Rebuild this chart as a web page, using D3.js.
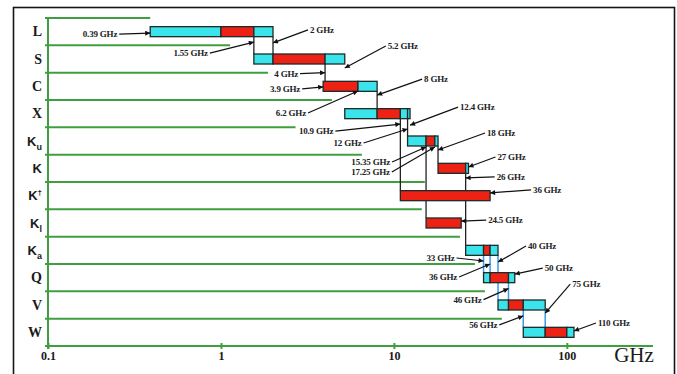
<!DOCTYPE html>
<html>
<head>
<meta charset="utf-8">
<script src="https://cdn.jsdelivr.net/npm/d3@7"></script>
<style>
  body { margin: 0; background: #fff; }
  svg { display: block; }
</style>
</head>
<body>
<svg id="chart" width="677" height="374"></svg>
<script>
// Radar / microwave frequency band designations (GHz, log scale)
const bandMain = ["L", "S", "C", "X", "K", "K", "K", "K", "K", "Q", "V", "W"];
const bandSub  = ["",  "",  "",  "",  "u", "",  "",  "l", "a", "",  "",  ""];
const bandSup  = ["",  "",  "",  "",  "",  "",  "†", "",  "",  "",  "",  ""];

// Bar pieces for each band: [from GHz, to GHz, kind]  (c = cyan, r = red)
const bandSegments = [
  [[0.39, 1, "c"], [1, 1.55, "r"], [1.55, 2, "c"]],
  [[1.55, 2, "c"], [2, 4, "r"], [4, 5.2, "c"]],
  [[3.9, 6.2, "r"], [6.2, 8, "c"]],
  [[5.2, 8, "c"], [8, 10.9, "r"], [10.9, 12, "c"], [12, 12.4, "c"]],
  [[12, 15.35, "c"], [15.35, 17.25, "r"], [17.25, 18, "c"]],
  [[18, 26, "r"], [26, 27, "c"]],
  [[10.9, 36, "r"]],
  [[15.35, 24.5, "r"]],
  [[26, 33, "c"], [33, 36, "r"], [36, 40, "c"]],
  [[33, 36, "c"], [36, 46, "r"], [46, 50, "c"]],
  [[40, 46, "c"], [46, 56, "r"], [56, 75, "c"]],
  [[56, 75, "c"], [75, 100, "r"], [100, 110, "c"]]
];

// Shared edges joining one band to another: [GHz, from band, to band]
const blackLinks = [[1.55, 0, 1], [2, 0, 1], [4, 1, 2], [8, 2, 3], [10.9, 3, 6],
                    [12, 3, 4], [15.35, 4, 7], [18, 4, 5], [26, 5, 8]];
const blueLinks  = [[33, 8, 9], [36, 8, 9], [40, 8, 10], [46, 9, 10], [56, 10, 11], [75, 10, 11]];

// Where each horizontal separator stops (GHz), top separator first
const gridEnds = [0.39, 1.13, 1.87, 4.38, 2.7, 6.53, 15.1, 14.5, 24.1, 29.4, 33.6, 42.1];

const tickValues = [0.1, 1, 10, 100];
const tickLabels = ["0.1", "1", "10", "100"];

// Edge call-outs: label, frequency pointed at, row position of the arrow tip
const calloutText = ["0.39 GHz", "1.55 GHz", "2 GHz", "5.2 GHz", "4 GHz", "3.9 GHz", "6.2 GHz",
  "8 GHz", "10.9 GHz", "12 GHz", "12.4 GHz", "15.35 GHz", "17.25 GHz", "18 GHz", "27 GHz",
  "26 GHz", "36 GHz", "24.5 GHz", "40 GHz", "33 GHz", "36 GHz", "50 GHz", "46 GHz",
  "75 GHz", "56 GHz", "110 GHz"];
const calloutFreq = [0.39, 1.55, 2, 5.2, 4, 3.9, 6.2, 8, 10.9, 12, 12.4, 15.35, 17.25, 18, 27,
  26, 36, 24.5, 40, 33, 36, 50, 46, 75, 56, 110];
const calloutRow = [0.55, 0.88, 0.91, 1.83, 2.0, 2.52, 2.67, 2.82, 3.88, 4.06, 3.92, 4.72, 4.72,
  4.83, 5.45, 5.85, 6.4, 7.43, 8.93, 8.89, 9.0, 9.37, 9.9, 10.8, 10.9, 11.45];
// Label placement relative to the tip: [dx, dy, anchor]
const calloutPlace = [[-33, 1, "end"], [-46, 11, "end"], [37, -13, "start"], [43, -22, "start"],
  [-27, 1, "end"], [-23, 2, "end"], [-52, 22, "end"], [47, -16, "start"], [-67, 7, "end"],
  [-46, 14, "end"], [50, -18, "start"], [-36, 15, "end"], [-45, 25, "end"], [49, -17, "start"],
  [29, -10, "start"], [31, -1, "start"], [43, -3, "start"], [27, -1, "start"], [30, -16, "start"],
  [-29, -3, "end"], [-33, 13, "end"], [30, -6, "start"], [-27, 11, "end"], [27, -29, "start"],
  [-26, 9, "end"], [24, -8, "start"]];

const svg = d3.select("#chart");

const x = d3.scaleLog().domain([0.1, 315]).range([48, 653]);
const y = d3.scaleLinear().domain([0, 12]).range([18, 346]);
const barH = 10;

const green = "#3f9e3f";
const fill = { c: "#3ae4ea", r: "#ee2214" };

// outer frame
svg.append("rect")
  .attr("x", 13.5).attr("y", 7.5).attr("width", 661).attr("height", 400)
  .attr("fill", "none").attr("stroke", "#151515").attr("stroke-width", 1.6);

// horizontal separators
svg.append("g").selectAll("line").data(gridEnds).join("line")
  .attr("x1", 45).attr("x2", d => x(d))
  .attr("y1", (d, i) => y(i)).attr("y2", (d, i) => y(i))
  .attr("stroke", green).attr("stroke-width", 2);

// frequency axis
const axis = d3.axisBottom(x).tickValues(tickValues).tickSize(0).tickFormat("");
const gAxis = svg.append("g").attr("transform", `translate(0,${y(12)})`).call(axis);
gAxis.select(".domain").attr("stroke", green).attr("stroke-width", 2.2)
  .attr("d", `M45,0H${x.range()[1]}`);
gAxis.selectAll(".tick").append("line")
  .attr("y1", -3).attr("y2", 3).attr("stroke", green).attr("stroke-width", 2);
gAxis.selectAll(".tick").append("text")
  .attr("y", 14).attr("text-anchor", "middle")
  .attr("fill", "#1a1a1a")
  .style("font", "bold 12px 'Liberation Serif', serif")
  .text((d, i) => tickLabels[i]);

// vertical axis
svg.append("line")
  .attr("x1", x(0.1)).attr("x2", x(0.1)).attr("y1", y(0)).attr("y2", y(12) + 3)
  .attr("stroke", green).attr("stroke-width", 2);

svg.append("text")
  .attr("x", 634).attr("y", 362).attr("text-anchor", "middle")
  .attr("fill", "#1a1a1a")
  .style("font", "21px 'Liberation Serif', serif")
  .text("GHz");

// connecting edges between bands
const barTop = r => y(r + 0.5) - barH / 2;
const barBot = r => y(r + 0.5) + barH / 2;

svg.append("g").selectAll("line").data(blackLinks).join("line")
  .attr("x1", d => x(d[0])).attr("x2", d => x(d[0]))
  .attr("y1", d => barBot(d[1])).attr("y2", d => barTop(d[2]))
  .attr("stroke", "#222").attr("stroke-width", 1.3);

svg.append("g").selectAll("line").data(blueLinks).join("line")
  .attr("x1", d => x(d[0])).attr("x2", d => x(d[0]))
  .attr("y1", d => barBot(d[1])).attr("y2", d => barTop(d[2]))
  .attr("stroke", "#3a9ae6").attr("stroke-width", 1.5);

// band bars
const segs = bandSegments.flatMap((list, r) => list.map(s => ({ r, a: s[0], b: s[1], k: s[2] })));
svg.append("g").selectAll("rect").data(segs).join("rect")
  .attr("x", d => x(d.a)).attr("width", d => x(d.b) - x(d.a))
  .attr("y", d => barTop(d.r)).attr("height", barH)
  .attr("fill", d => fill[d.k])
  .attr("stroke", "#1d2a2a").attr("stroke-width", 1.3);

// band names (with sub/superscripts on the K family)
const serifBands = new Set(["L", "S", "C", "X", "Q", "V", "W"]);
svg.append("g").selectAll("text").data(bandMain).join("text")
  .attr("x", 42).attr("y", (d, i) => y(i + 0.5) + 4.5)
  .attr("text-anchor", "end").attr("fill", "#1a1a1a")
  .style("font", d => serifBands.has(d)
    ? "bold 14px 'Liberation Serif', serif"
    : "bold 13px 'Liberation Sans', sans-serif")
  .each(function (d, i) {
    const t = d3.select(this);
    t.append("tspan").text(d);
    if (bandSub[i]) t.append("tspan").attr("dy", 4).style("font-size", "9px").text(bandSub[i]);
    if (bandSup[i]) t.append("tspan").attr("dy", -5).style("font-size", "8px").text(bandSup[i]);
  });

// call-outs with arrows
svg.append("defs").append("marker")
  .attr("id", "head").attr("viewBox", "0 0 10 10")
  .attr("refX", 10).attr("refY", 5)
  .attr("markerWidth", 7).attr("markerHeight", 5)
  .attr("markerUnits", "userSpaceOnUse").attr("orient", "auto")
  .append("path").attr("d", "M0,0L10,5L0,10Z").attr("fill", "#111");

const callouts = calloutText.map((t, i) => {
  const tx = x(calloutFreq[i]), ty = y(calloutRow[i]);
  const [dx, dy, anchor] = calloutPlace[i];
  return { t, tx, ty, lx: tx + dx, ly: ty + dy, anchor };
});
const gc = svg.append("g");
gc.selectAll("line").data(callouts).join("line")
  .attr("x1", d => d.lx + (d.anchor === "end" ? 2 : -2)).attr("y1", d => d.ly)
  .attr("x2", d => d.tx).attr("y2", d => d.ty)
  .attr("stroke", "#111").attr("stroke-width", 1.2)
  .attr("marker-end", "url(#head)");
gc.selectAll("text").data(callouts).join("text")
  .attr("x", d => d.lx).attr("y", d => d.ly + 3)
  .attr("text-anchor", d => d.anchor).attr("fill", "#222")
  .style("font", "bold 9px 'Liberation Serif', serif")
  .style("letter-spacing", "-0.2px")
  .text(d => d.t);
</script>
</body>
</html>
